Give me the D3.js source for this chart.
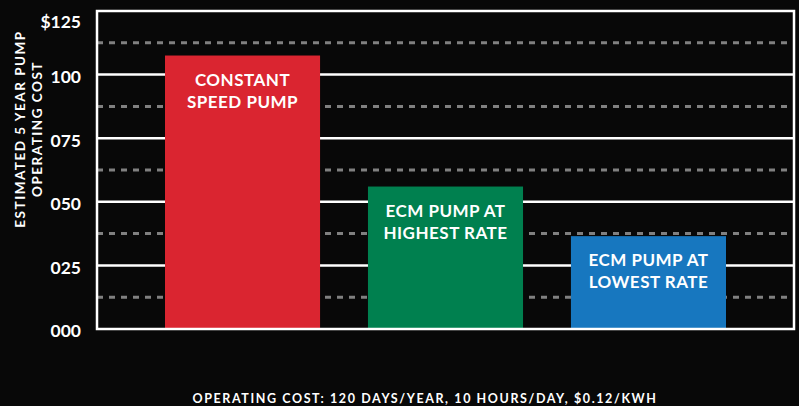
<!DOCTYPE html>
<html>
<head>
<meta charset="utf-8">
<script src="https://cdn.jsdelivr.net/npm/d3@7"></script>
<style>
  html, body { margin: 0; padding: 0; background: #080808; }
  svg { display: block; }
  text { font-family: Lato, "Open Sans", sans-serif; font-weight: 700; fill: #fff; }
</style>
</head>
<body>
<div id="container"></div>
<script>
const width = 799
const height = 406

const categories = ['constant', 'ecmHigh', 'ecmLow']
const labels = [['CONSTANT', 'SPEED PUMP'], ['ECM PUMP AT', 'HIGHEST RATE'], ['ECM PUMP AT', 'LOWEST RATE']]
const values = [107.5, 56, 36.5]
const colors = ['#da2530', '#00804f', '#1777bf']
const tickValues = [0, 25, 50, 75, 100, 125]
const tickLabels = ['000', '025', '050', '075', '100', '$125']
const minorTicks = [12.5, 37.5, 62.5, 87.5, 112.5]

const margin = { top: 11, right: 5, bottom: 77, left: 97 }
const plotW = width - margin.left - margin.right
const plotH = height - margin.top - margin.bottom

const svg = d3.select('#container')
  .append('svg')
  .attr('width', width)
  .attr('height', height)

const x = d3.scaleBand()
  .domain(categories)
  .range([0, plotW])
  .paddingInner(0.236)
  .paddingOuter(0.335)

const y = d3.scaleLinear()
  .domain([0, 125])
  .range([plotH, 0])

const g = svg.append('g')
  .attr('transform', `translate(${margin.left},${margin.top})`)

// dashed minor gridlines
g.selectAll('.minor')
  .data(minorTicks)
  .enter()
  .append('line')
  .attr('x1', 0)
  .attr('x2', plotW)
  .attr('y1', d => y(d))
  .attr('y2', d => y(d))
  .attr('stroke', '#808080')
  .attr('stroke-width', 3)
  .attr('stroke-dasharray', '6,6')

// solid major gridlines
g.selectAll('.major')
  .data(tickValues.slice(1, -1))
  .enter()
  .append('line')
  .attr('x1', 0)
  .attr('x2', plotW)
  .attr('y1', d => y(d))
  .attr('y2', d => y(d))
  .attr('stroke', '#fff')
  .attr('stroke-width', 2.5)

// bars
const bars = g.selectAll('.bar')
  .data(categories)
  .enter()
  .append('g')

bars.append('rect')
  .attr('x', d => x(d))
  .attr('y', (d, i) => y(values[i]))
  .attr('width', x.bandwidth())
  .attr('height', (d, i) => plotH - y(values[i]))
  .attr('fill', (d, i) => colors[i])

bars.append('text')
  .attr('text-anchor', 'middle')
  .attr('font-size', 17)
  .attr('letter-spacing', 0.5)
  .attr('x', d => x(d) + x.bandwidth() / 2)
  .attr('y', (d, i) => y(values[i]) + 30)
  .selectAll('tspan')
  .data((d, i) => labels[i])
  .enter()
  .append('tspan')
  .attr('x', function () { return this.parentNode.getAttribute('x') })
  .attr('dy', (d, i) => i === 0 ? 0 : 22)
  .text(d => d)

// frame
g.append('rect')
  .attr('width', plotW)
  .attr('height', plotH)
  .attr('fill', 'none')
  .attr('stroke', '#fff')
  .attr('stroke-width', 2.5)

// y axis labels
const yAxis = d3.axisLeft(y)
  .tickValues(tickValues)
  .tickSize(0)
  .tickPadding(16)
  .tickFormat((d, i) => tickLabels[i])

const ya = g.append('g').call(yAxis)
ya.select('.domain').remove()
ya.selectAll('text')
  .attr('font-size', 17.5)
  .attr('font-family', 'Lato, sans-serif')
  .attr('fill', '#fff')
  .attr('dy', (d) => d === 125 ? '0.95em' : '0.45em')

// y axis title
const yt = svg.append('text')
  .attr('transform', 'translate(25,129) rotate(-90)')
  .attr('text-anchor', 'middle')
  .attr('font-size', 13.5)
  .attr('letter-spacing', 1.5)
yt.append('tspan').attr('x', 0).attr('dy', 0).text('ESTIMATED 5 YEAR PUMP')
yt.append('tspan').attr('x', 0).attr('dy', 17).text('OPERATING COST')

// x caption
svg.append('text')
  .attr('x', 425)
  .attr('y', 403)
  .attr('text-anchor', 'middle')
  .attr('font-size', 12.5)
  .attr('letter-spacing', 1.6)
  .text('OPERATING COST: 120 DAYS/YEAR, 10 HOURS/DAY, $0.12/KWH')
</script>
</body>
</html>
